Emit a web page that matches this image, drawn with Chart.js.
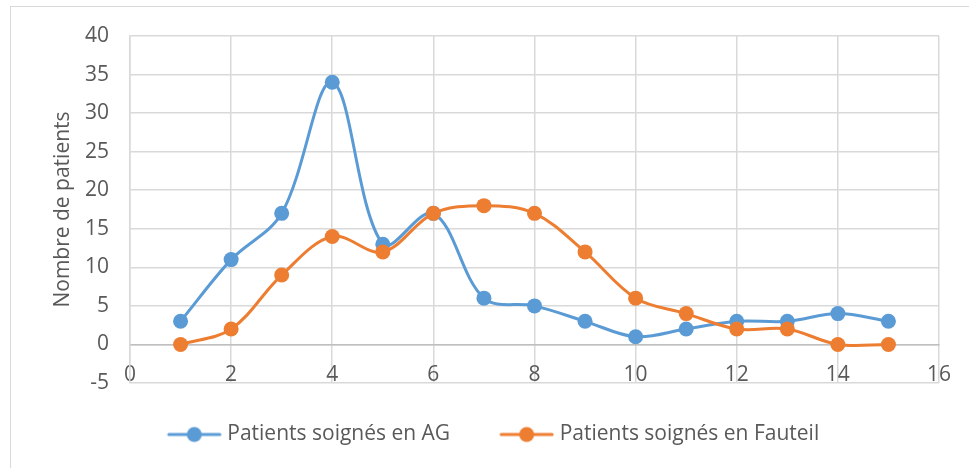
<!DOCTYPE html>
<html>
<head>
<meta charset="utf-8">
<script src="https://cdn.jsdelivr.net/npm/chart.js@4.4.1/dist/chart.umd.min.js"></script>
<style>
  body { margin: 0; background: #fff; }
  #frame { position: absolute; left: 10px; top: 6px; width: 1000px; height: 500px; border: 1px solid #d9d9d9; }
  #wrap { position: absolute; left: 0; top: 0; width: 969px; height: 468px; }
</style>
</head>
<body>
<div id="frame"></div>
<div id="wrap"><canvas id="chart" width="969" height="468"></canvas></div>
<script>
'use strict';

// values
let xValues = [1, 2, 3, 4, 5, 6, 7, 8, 9, 10, 11, 12, 13, 14, 15];
let agValues = [3, 11, 17, 34, 13, 17, 6, 5, 3, 1, 2, 3, 3, 4, 3];
let fauteuilValues = [0, 2, 9, 14, 12, 17, 18, 17, 12, 6, 4, 2, 2, 0, 0];
let seriesNames = ['Patients soignés en AG', 'Patients soignés en Fauteil'];
let seriesColors = ['#5b9bd5', '#ed7d31'];
let yTitle = 'Nombre de patients';

let textColor = '#595959';
let gridColor = '#d9d9d9';
let fontFamily = 'Open Sans';
let fontSize = 21;

function toPoints(values) {
  return values.map((v, i) => ({ x: xValues[i], y: v }));
}

// little line + marker picture for the legend, like the office look
function legendSymbol(color) {
  let c = document.createElement('canvas');
  c.width = 68;
  c.height = 18;
  let ctx = c.getContext('2d');
  ctx.strokeStyle = color;
  ctx.lineWidth = 3;
  ctx.lineCap = 'round';
  ctx.beginPath();
  ctx.moveTo(15, 9);
  ctx.lineTo(66, 9);
  ctx.stroke();
  ctx.fillStyle = color;
  ctx.beginPath();
  ctx.arc(40.5, 9, 7.5, 0, Math.PI * 2);
  ctx.fill();
  return c;
}

let symbols = seriesColors.map(legendSymbol);

function makeDataset(i, values, order) {
  return {
    label: seriesNames[i],
    data: toPoints(values),
    borderColor: seriesColors[i],
    backgroundColor: seriesColors[i],
    borderWidth: 3,
    pointRadius: 7.5,
    pointHoverRadius: 7.5,
    pointBorderWidth: 0,
    tension: 0.35,
    order: order
  };
}

let chart = new Chart(document.getElementById('chart'), {
  type: 'line',
  data: {
    datasets: [
      makeDataset(0, agValues, 1),
      makeDataset(1, fauteuilValues, 0)
    ]
  },
  options: {
    responsive: false,
    animation: false,
    layout: { padding: { left: 38, top: 36, right: 29, bottom: 13 } },
    font: { family: fontFamily },
    scales: {
      x: {
        type: 'linear',
        position: { y: 0 },
        min: 0,
        max: 16,
        ticks: { stepSize: 2, color: textColor, font: { family: fontFamily, size: fontSize }, padding: 18, maxRotation: 0 },
        grid: { color: gridColor, lineWidth: 1.5, drawTicks: false },
        border: { color: '#bfbfbf', width: 1.5 },
        // the axis sits at y = 0 inside the plot, so it takes no room below it
        afterFit: (scale) => { scale.height = 0; }
      },
      y: {
        min: -5,
        max: 40,
        ticks: { stepSize: 5, color: textColor, font: { family: fontFamily, size: fontSize }, padding: 21 },
        grid: { color: gridColor, lineWidth: 1.5, drawTicks: false },
        border: { color: gridColor, width: 1.5 },
        title: { display: true, text: yTitle, color: textColor, font: { family: fontFamily, size: fontSize }, padding: { top: 12, bottom: 0 } },
        afterFit: (scale) => { scale.width = 92; }
      }
    },
    plugins: {
      tooltip: { enabled: false },
      legend: {
        position: 'bottom',
        labels: {
          color: textColor,
          font: { family: fontFamily, size: fontSize, lineHeight: 1.05 },
          usePointStyle: true,
          pointStyleWidth: 58,
          padding: 41,
          sort: (a, b) => a.datasetIndex - b.datasetIndex,
          generateLabels: (c) => {
            let items = Chart.defaults.plugins.legend.labels.generateLabels(c);
            items.forEach((item) => { item.pointStyle = symbols[item.datasetIndex]; });
            return items;
          }
        }
      }
    }
  }
});
</script>
</body>
</html>
